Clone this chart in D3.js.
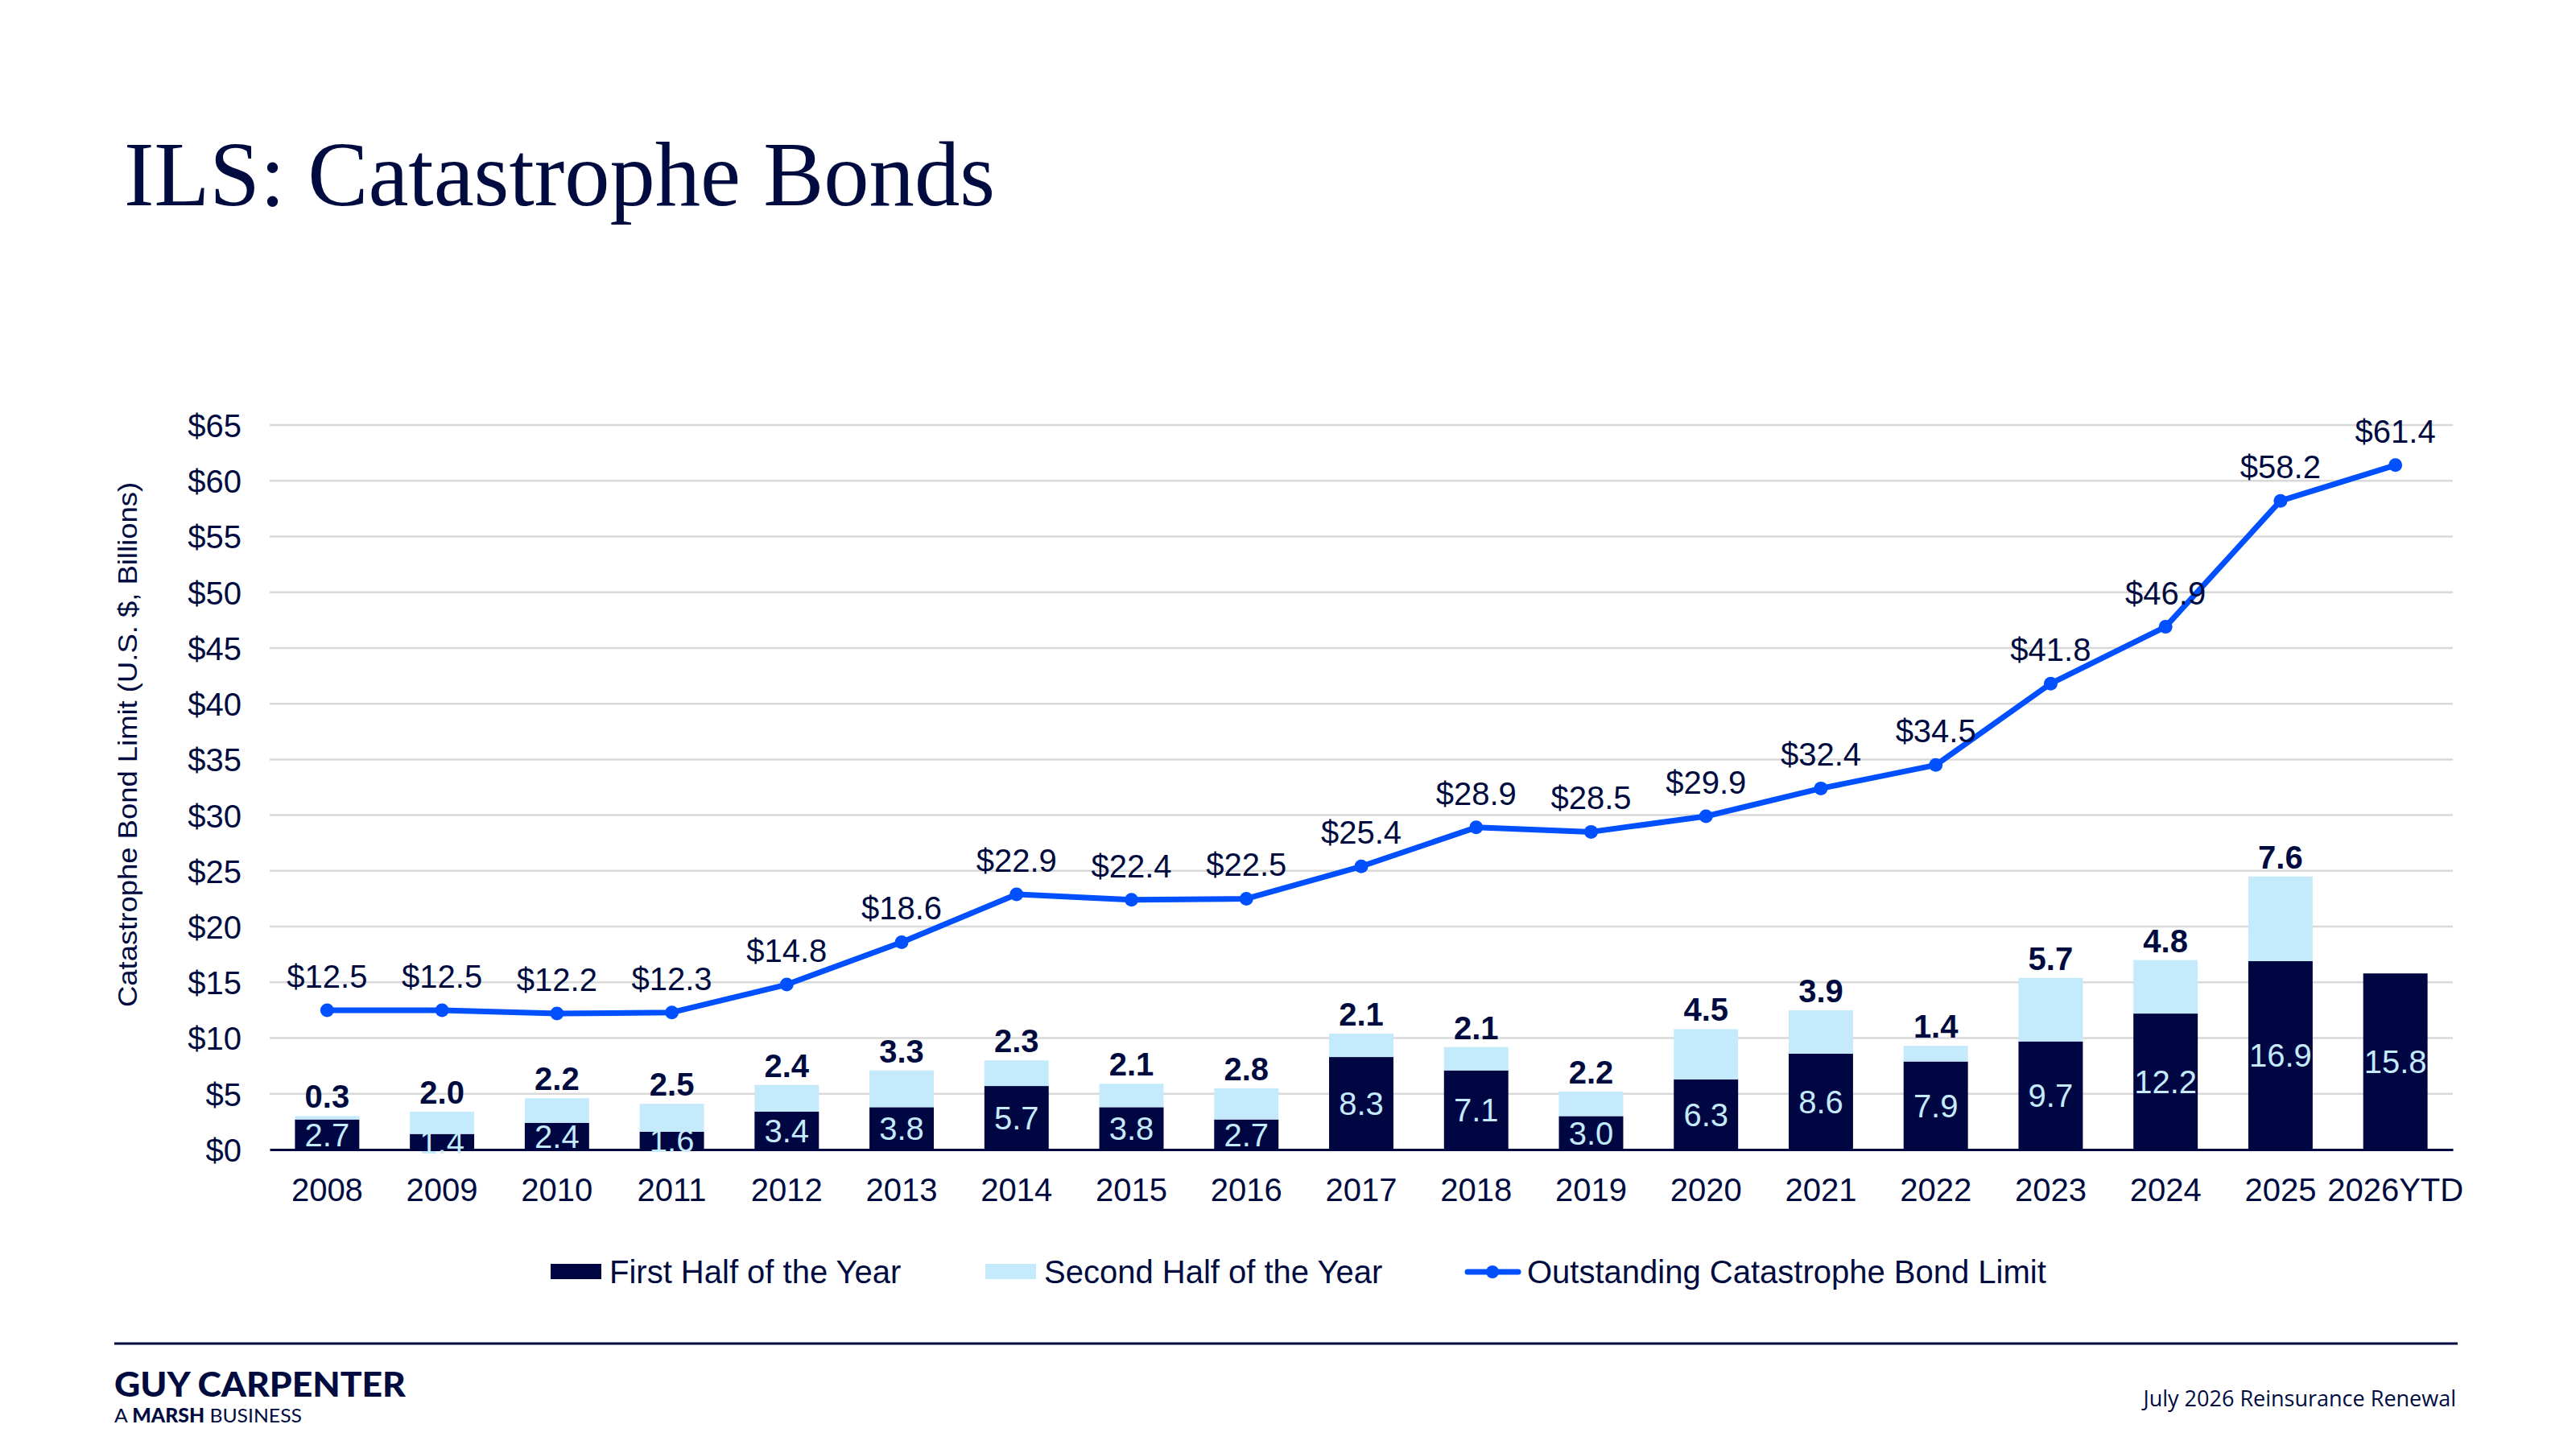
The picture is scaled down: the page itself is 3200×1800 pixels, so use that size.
<!DOCTYPE html>
<html>
<head>
<meta charset="utf-8">
<script src="https://cdn.jsdelivr.net/npm/d3@7"></script>
<style>
  body { margin: 0; background: #fff; }
  svg { display: block; }
</style>
</head>
<body>
<svg id="svg"></svg>
<script>
// chart data
let years = ["2008", "2009", "2010", "2011", "2012", "2013", "2014", "2015", "2016", "2017",
  "2018", "2019", "2020", "2021", "2022", "2023", "2024", "2025", "2026YTD"];
let firstHalf = [2.7, 1.4, 2.4, 1.6, 3.4, 3.8, 5.7, 3.8, 2.7, 8.3, 7.1, 3.0, 6.3, 8.6, 7.9, 9.7, 12.2, 16.9, 15.8];
let secondHalf = [0.3, 2.0, 2.2, 2.5, 2.4, 3.3, 2.3, 2.1, 2.8, 2.1, 2.1, 2.2, 4.5, 3.9, 1.4, 5.7, 4.8, 7.6, null];
let outstanding = [12.5, 12.5, 12.2, 12.3, 14.8, 18.6, 22.9, 22.4, 22.5, 25.4, 28.9, 28.5, 29.9, 32.4, 34.5, 41.8, 46.9, 58.2, 61.4];
let yTicks = [0, 5, 10, 15, 20, 25, 30, 35, 40, 45, 50, 55, 60, 65];
let legendNames = ["First Half of the Year", "Second Half of the Year", "Outstanding Catastrophe Bond Limit"];

let width = 3200;
let height = 1800;

let navy = "#000642";
let textNavy = "#000b40";
let lightBlue = "#c4eafc";
let lineBlue = "#0050ff";
let sans = "'Liberation Sans', Arial, sans-serif";

let svg = d3.select("#svg")
  .attr("width", width)
  .attr("height", height);

// title
svg.append("text")
  .attr("x", 154)
  .attr("y", 255)
  .attr("font-family", "'Liberation Serif', 'Times New Roman', serif")
  .attr("font-size", 115)
  .attr("textLength", 1082)
  .attr("lengthAdjust", "spacingAndGlyphs")
  .attr("fill", textNavy)
  .text("ILS: Catastrophe Bonds");

//////////////////////////////////////////////////////////////////////////////
// scales

let x = d3.scaleBand()
  .domain(years)
  .range([335, 3047])
  .paddingInner(0.44)
  .paddingOuter(0.22);

let y = d3.scaleLinear()
  .domain([0, 65])
  .range([1428, 528]);

// gridlines
svg.append("g")
  .selectAll("line")
  .data(yTicks.filter(d => d > 0))
  .enter()
  .append("line")
  .attr("x1", 335)
  .attr("x2", 3047)
  .attr("y1", d => y(d))
  .attr("y2", d => y(d))
  .attr("stroke", "#d9d9d9")
  .attr("stroke-width", 2.5);

// y axis labels
let yAxis = d3.axisLeft(y)
  .tickValues(yTicks)
  .tickFormat(d => "$" + d)
  .tickSize(0)
  .tickPadding(0);

let yg = svg.append("g")
  .attr("transform", "translate(300,0)")
  .call(yAxis);
yg.select(".domain").remove();
yg.selectAll("text")
  .attr("font-family", sans)
  .attr("font-size", 40)
  .attr("fill", textNavy)
  .attr("dy", "0.36em");

// y axis title
svg.append("text")
  .attr("transform", "translate(170,925) rotate(-90)")
  .attr("text-anchor", "middle")
  .attr("font-family", sans)
  .attr("font-size", 34)
  .attr("textLength", 652)
  .attr("lengthAdjust", "spacingAndGlyphs")
  .attr("fill", textNavy)
  .text("Catastrophe Bond Limit (U.S. $, Billions)");

//////////////////////////////////////////////////////////////////////////////
// stacked bars

let rows = years.map(function(yr, i) {
  return { year: yr, first: firstHalf[i], second: secondHalf[i] || 0, secondLabel: secondHalf[i] };
});

let stack = d3.stack().keys(["first", "second"]);
let layers = stack(rows);
let barColors = [navy, lightBlue];

svg.append("g")
  .selectAll("g")
  .data(layers)
  .enter()
  .append("g")
  .attr("fill", (d, i) => barColors[i])
  .selectAll("rect")
  .data(d => d)
  .enter()
  .append("rect")
  .attr("x", d => x(d.data.year))
  .attr("width", x.bandwidth())
  .attr("y", d => y(d[1]))
  .attr("height", d => y(d[0]) - y(d[1]));

// x axis (baseline + year labels)
let xAxis = d3.axisBottom(x).tickSize(0).tickPadding(0);
let xg = svg.append("g")
  .attr("transform", "translate(0," + y(0) + ")")
  .call(xAxis);
xg.select(".domain")
  .attr("stroke", navy)
  .attr("stroke-width", 3);
xg.selectAll("text")
  .attr("font-family", sans)
  .attr("font-size", 40)
  .attr("fill", textNavy)
  .attr("dy", 64);

// first half labels, centred in the dark segment
svg.append("g")
  .selectAll("text")
  .data(layers[0])
  .enter()
  .append("text")
  .attr("x", d => x(d.data.year) + x.bandwidth() / 2)
  .attr("y", d => (y(d[0]) + y(d[1])) / 2)
  .attr("dy", "0.36em")
  .attr("text-anchor", "middle")
  .attr("font-family", sans)
  .attr("font-size", 40)
  .attr("fill", lightBlue)
  .text(d => d3.format(".1f")(d.data.first));

// second half labels, bold above the stack
svg.append("g")
  .selectAll("text")
  .data(layers[1].filter(d => d.data.secondLabel != null))
  .enter()
  .append("text")
  .attr("x", d => x(d.data.year) + x.bandwidth() / 2)
  .attr("y", d => y(d[1]) - 10)
  .attr("text-anchor", "middle")
  .attr("font-family", sans)
  .attr("font-weight", "bold")
  .attr("font-size", 40)
  .attr("fill", textNavy)
  .text(d => d3.format(".1f")(d.data.secondLabel));

//////////////////////////////////////////////////////////////////////////////
// outstanding limit line

let pts = years.map((yr, i) => ({ year: yr, v: outstanding[i] }));

let line = d3.line()
  .x(d => x(d.year) + x.bandwidth() / 2)
  .y(d => y(d.v));

svg.append("path")
  .datum(pts)
  .attr("d", line)
  .attr("fill", "none")
  .attr("stroke", lineBlue)
  .attr("stroke-width", 7)
  .attr("stroke-linejoin", "round");

svg.append("g")
  .selectAll("circle")
  .data(pts)
  .enter()
  .append("circle")
  .attr("cx", d => x(d.year) + x.bandwidth() / 2)
  .attr("cy", d => y(d.v))
  .attr("r", 8.5)
  .attr("fill", lineBlue);

svg.append("g")
  .selectAll("text")
  .data(pts)
  .enter()
  .append("text")
  .attr("x", d => x(d.year) + x.bandwidth() / 2)
  .attr("y", d => y(d.v) - 28)
  .attr("text-anchor", "middle")
  .attr("font-family", sans)
  .attr("font-size", 40)
  .attr("fill", textNavy)
  .text(d => "$" + d3.format(".1f")(d.v));

//////////////////////////////////////////////////////////////////////////////
// legend

let legendX = [684, 1224, 1820];
let leg = svg.append("g");

leg.append("rect").attr("x", legendX[0]).attr("y", 1570).attr("width", 63).attr("height", 19).attr("fill", navy);
leg.append("rect").attr("x", legendX[1]).attr("y", 1570).attr("width", 63).attr("height", 19).attr("fill", lightBlue);
leg.append("line")
  .attr("x1", legendX[2] + 3).attr("x2", legendX[2] + 66)
  .attr("y1", 1580).attr("y2", 1580)
  .attr("stroke", lineBlue).attr("stroke-width", 7).attr("stroke-linecap", "round");
leg.append("circle").attr("cx", legendX[2] + 34).attr("cy", 1580).attr("r", 8).attr("fill", lineBlue);

leg.selectAll("text")
  .data(legendNames)
  .enter()
  .append("text")
  .attr("x", (d, i) => legendX[i] + (i == 2 ? 77 : 73))
  .attr("y", 1594)
  .attr("font-family", sans)
  .attr("font-size", 40)
  .attr("fill", textNavy)
  .text(d => d);

//////////////////////////////////////////////////////////////////////////////
// footer

svg.append("line")
  .attr("x1", 142).attr("x2", 3053)
  .attr("y1", 1669).attr("y2", 1669)
  .attr("stroke", navy).attr("stroke-width", 3);

svg.append("text")
  .attr("x", 142).attr("y", 1735)
  .attr("font-family", "Lato, 'Noto Sans', sans-serif")
  .attr("font-weight", 900)
  .attr("font-size", 42)
  .attr("textLength", 362)
  .attr("lengthAdjust", "spacingAndGlyphs")
  .attr("fill", textNavy)
  .text("GUY CARPENTER");

let sub = svg.append("text")
  .attr("x", 142).attr("y", 1767)
  .attr("font-family", "Lato, 'Noto Sans', sans-serif")
  .attr("font-size", 24)
  .attr("textLength", 233)
  .attr("lengthAdjust", "spacingAndGlyphs")
  .attr("fill", textNavy);
sub.append("tspan").text("A ");
sub.append("tspan").attr("font-weight", 900).text("MARSH");
sub.append("tspan").text(" BUSINESS");

svg.append("text")
  .attr("x", 3051).attr("y", 1747)
  .attr("text-anchor", "end")
  .attr("font-family", "'Open Sans', 'Noto Sans', sans-serif")
  .attr("font-size", 27)
  .attr("fill", textNavy)
  .text("July 2026 Reinsurance Renewal");
</script>
</body>
</html>
